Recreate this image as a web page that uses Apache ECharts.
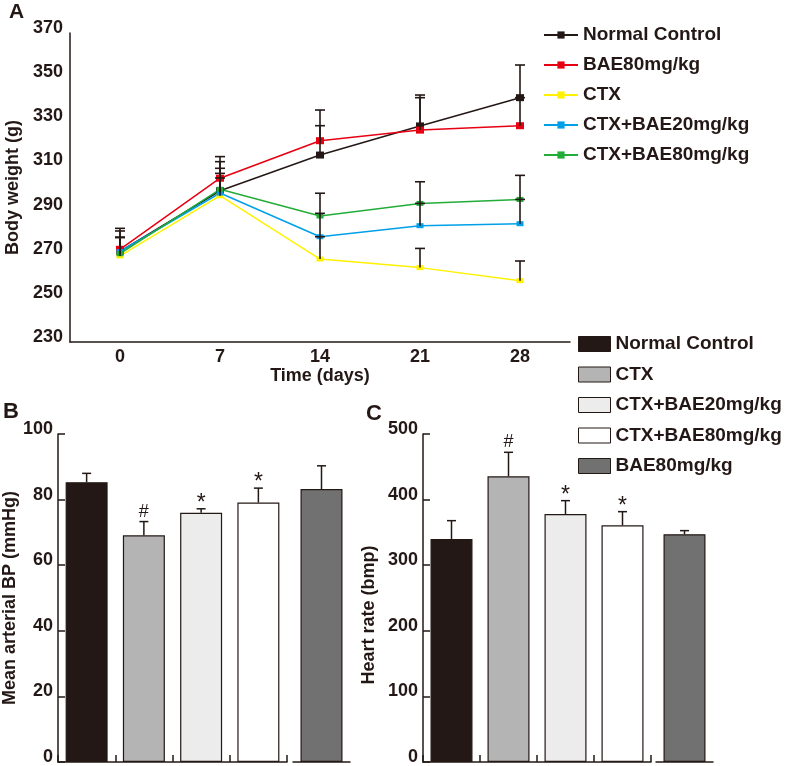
<!DOCTYPE html>
<html><head><meta charset="utf-8">
<script src="https://cdn.jsdelivr.net/npm/echarts@6/dist/echarts.min.js"></script>
<style>html,body{margin:0;padding:0;background:#fff}#c{width:790px;height:766px}</style>
</head><body><div id="c"></div>
<script>
// ---------- Panel A data ----------
const days = ['0', '7', '14', '21', '28'];
const lineNames = ['Normal Control', 'BAE80mg/kg', 'CTX', 'CTX+BAE20mg/kg', 'CTX+BAE80mg/kg'];
const normalW = [271, 298.5, 314.7, 327.9, 340.7];
const normalErr = [10.5, 13.2, 13.3, 14, 14.8];
const bae80W = [272, 304.2, 321.2, 326, 328];
const bae80Err = [8.3, 9.8, 13.9, 14.7, 12.7];
const ctxW = [269, 296.3, 267.6, 263.7, 257.8];
const ctxErr = [8.4, 8, 10.1, 8.7, 8.9];
const ctx20W = [271, 297.5, 277.7, 282.7, 283.6];
const ctx20Err = [6.4, 8.9, 10.6, 10.1, 11];
const ctx80W = [270, 299.2, 287.1, 292.8, 294.6];
const ctx80Err = [7.4, 9.5, 10.3, 9.8, 10.9];
const weightMin = 230, weightMax = 370, weightStep = 20;

// ---------- Panel B / C data ----------
const groups = ['Normal Control', 'CTX', 'CTX+BAE20mg/kg', 'CTX+BAE80mg/kg', 'BAE80mg/kg'];
const bpMean = [85.3, 69.1, 76.0, 79.1, 83.2];
const bpErr = [2.7, 4.2, 1.2, 4.4, 7.1];
const hrMean = [340, 435.5, 378.1, 360.9, 347.2];
const hrErr = [27.9, 36.6, 20.3, 20.7, 5.5];
const marks = ['', '#', '*', '*', ''];

// ---------- styles ----------
const INK = '#231815';
const FONT = 'Liberation Sans, Arial, sans-serif';
const lineColors = ['#231815', '#e60012', '#fff100', '#00a0e9', '#22ac38'];
const lineSymbols = [[8, 7], [8, 7], [7, 5], [7, 5], [7, 5]];
const barColors = ['#231815', '#b4b4b5', '#ececec', '#ffffff', '#727171'];

const lineVals = [normalW, bae80W, ctxW, ctx20W, ctx80W];
const lineErrs = [normalErr, bae80Err, ctxErr, ctx20Err, ctx80Err];

function errRender(capW, lw, noteArr, offset) {
  return function (params, api) {
    const x = api.value(0), v = api.value(1), e = api.value(2);
    const p0 = api.coord([x, v]);
    const p1 = api.coord([x, v + e]);
    const st = { stroke: INK, lineWidth: lw };
    const ch = [
      { type: 'line', shape: { x1: p0[0], y1: p0[1], x2: p1[0], y2: p1[1] }, style: st },
      { type: 'line', shape: { x1: p1[0] - capW / 2, y1: p1[1], x2: p1[0] + capW / 2, y2: p1[1] }, style: st }
    ];
    if (noteArr) {
      const n = noteArr[params.dataIndex + offset];
      if (n) {
        const star = n === '*';
        ch.push({ type: 'text', x: p1[0], y: p1[1] - (star ? 5 : 10),
          style: { text: n, fill: INK, font: 'normal ' + (star ? 23 : 18) + 'px ' + FONT, align: 'center', verticalAlign: 'middle' } });
      }
    }
    return { type: 'group', children: ch };
  };
}

const axisLineStyle = { color: INK, width: 1.5 };
const labelStyle = { color: INK, fontSize: 18, fontWeight: 'bold', fontFamily: FONT };
const yLabelShift = { verticalAlign: 'bottom', lineHeight: 10 };

const series = [];
// Panel A lines
lineNames.forEach((nm, i) => {
  series.push({
    name: nm, type: 'line', xAxisIndex: 0, yAxisIndex: 0, data: lineVals[i],
    symbol: 'rect', symbolSize: lineSymbols[i], z: 3,
    lineStyle: { color: lineColors[i], width: 1.5 }, itemStyle: { color: lineColors[i] },
    emphasis: { disabled: true }
  });
});
lineNames.forEach((nm, i) => {
  series.push({
    type: 'custom', xAxisIndex: 0, yAxisIndex: 0, z: 4,
    renderItem: errRender(10, 1.6, null, 0),
    data: lineVals[i].map((v, k) => [k, v, lineErrs[i][k]])
  });
});

// Panel B/C bars
function addBars(mean, err, axA, axB) {
  groups.forEach((g, i) => {
    if (i < 4) {
      series.push({
        name: 'bar:' + g, type: 'bar', stack: 's' + axA, xAxisIndex: axA, yAxisIndex: axA,
        barWidth: 42, data: mean.slice(0, 4).map((v, k) => (k === i ? v : '-')),
        itemStyle: { color: barColors[i], borderColor: INK, borderWidth: 1.2 }, emphasis: { disabled: true }
      });
    } else {
      series.push({
        name: 'bar:' + g, type: 'bar', xAxisIndex: axB, yAxisIndex: axB,
        barWidth: 42, data: [mean[i]],
        itemStyle: { color: barColors[i], borderColor: INK, borderWidth: 1.2 }, emphasis: { disabled: true }
      });
    }
  });
  series.push({ type: 'custom', xAxisIndex: axA, yAxisIndex: axA, z: 5,
    renderItem: errRender(9, 1.5, marks, 0),
    data: mean.slice(0, 4).map((v, k) => [k, v, err[k]]) });
  series.push({ type: 'custom', xAxisIndex: axB, yAxisIndex: axB, z: 5,
    renderItem: errRender(9, 1.5, marks, 4),
    data: [[0, mean[4], err[4]]] });
}
addBars(bpMean, bpErr, 1, 2);
addBars(hrMean, hrErr, 3, 4);

function barX(grid, cats, ticks) {
  return { type: 'category', gridIndex: grid, data: cats, boundaryGap: true,
    axisLine: { lineStyle: axisLineStyle },
    axisTick: { show: ticks, interval: 0, inside: true, length: 7, lineStyle: axisLineStyle },
    axisLabel: { show: false, interval: 0 } };
}
function barY(grid, max, step, name, gap, show, pad) {
  return { type: 'value', gridIndex: grid, min: 0, max: max, interval: step, show: show,
    splitLine: { show: false },
    axisLine: { show: true, lineStyle: axisLineStyle },
    axisTick: { show: true, inside: true, length: 7, lineStyle: axisLineStyle },
    axisLabel: Object.assign({ margin: 5 }, labelStyle, yLabelShift),
    name: name, nameLocation: 'middle', nameGap: gap,
    nameTextStyle: Object.assign({ padding: pad || 0 }, labelStyle) };
}
function mkGrid(l, t, w, h) {
  return { left: l, top: t, width: w, height: h, containLabel: false, outerBoundsMode: 'none' };
}

const titleText = { fontSize: 22, fontWeight: 'bold', color: INK, fontFamily: FONT };
const option = {
  animation: false,
  backgroundColor: '#ffffff',
  textStyle: { fontFamily: FONT },
  title: [
    { text: 'A', left: 9, top: 2, padding: 0, textStyle: Object.assign({}, titleText, { fontSize: 21 }) },
    { text: 'B', left: 3, top: 401, padding: 0, textStyle: titleText },
    { text: 'C', left: 366, top: 403, padding: 0, textStyle: titleText }
  ],
  legend: [
    { orient: 'vertical', left: 543, top: 25, padding: 0, itemWidth: 34, itemHeight: 9, itemGap: 10,
      data: lineNames, selectedMode: false,
      textStyle: { color: INK, fontSize: 19, fontWeight: 'bold', fontFamily: FONT, lineHeight: 20 } },
    { orient: 'vertical', left: 578, top: 334, padding: 0, itemWidth: 32, itemHeight: 15, itemGap: 10.5,
      data: groups.map(g => 'bar:' + g), selectedMode: false, icon: 'rect',
      formatter: n => n.slice(4),
      itemStyle: { borderColor: INK, borderWidth: 1 },
      textStyle: { color: INK, fontSize: 19, fontWeight: 'bold', fontFamily: FONT, lineHeight: 20 } }
  ],
  grid: [
    mkGrid(70, 33, 500, 309),
    mkGrid(58, 434, 229, 328),
    mkGrid(293, 434, 57, 328),
    mkGrid(423, 434, 228, 328),
    mkGrid(656, 434, 57, 328)
  ],
  xAxis: [
    { type: 'category', gridIndex: 0, data: days, boundaryGap: true,
      axisLine: { lineStyle: axisLineStyle }, axisTick: { inside: true, interval: 0, length: 8, lineStyle: axisLineStyle },
      axisLabel: Object.assign({ margin: 6, interval: 0 }, labelStyle),
      name: 'Time (days)', nameLocation: 'middle', nameGap: 25, nameTextStyle: labelStyle },
    barX(1, groups.slice(0, 4), true),
    barX(2, groups.slice(4), false),
    barX(3, groups.slice(0, 4), true),
    barX(4, groups.slice(4), false)
  ],
  yAxis: [
    { type: 'value', gridIndex: 0, min: weightMin, max: weightMax, interval: weightStep,
      splitLine: { show: false }, axisLine: { show: true, lineStyle: axisLineStyle },
      axisTick: { inside: true, length: 12, lineStyle: axisLineStyle },
      axisLabel: Object.assign({ margin: 7 }, labelStyle, yLabelShift),
      name: 'Body weight (g)', nameLocation: 'middle', nameGap: 44, nameTextStyle: labelStyle },
    barY(1, 100, 20, 'Mean arterial BP (mmHg)', 38, true),
    barY(2, 100, 20, '', 0, false),
    barY(3, 500, 100, 'Heart rate (bmp)', 45, true, [0, 34, 0, 0]),
    barY(4, 500, 100, '', 0, false)
  ],
  series: series
};
const chart = echarts.init(document.getElementById('c'), null, { renderer: 'canvas' });
chart.setOption(option);
</script>
</body></html>
